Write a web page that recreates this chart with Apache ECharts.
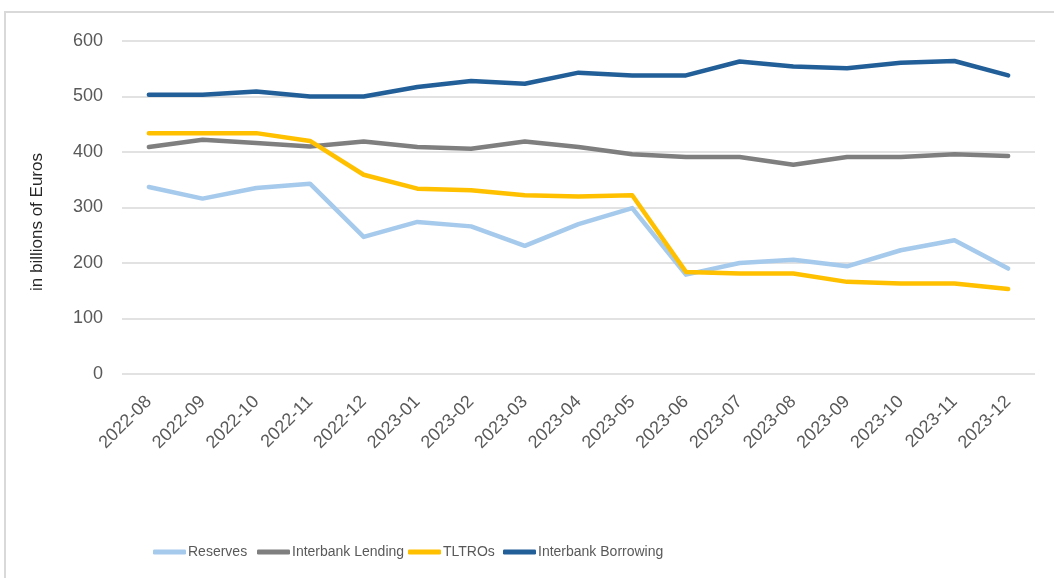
<!DOCTYPE html>
<html>
<head>
<meta charset="utf-8">
<script src="https://cdn.jsdelivr.net/npm/echarts@6/dist/echarts.min.js"></script>
<style>
	html, body { margin: 0; padding: 0; background: #fff; }
	#chart { width: 1054px; height: 578px; }
</style>
</head>
<body>
<div id="chart"></div>
<script>
// months on the x axis
var months = ['2022-08', '2022-09', '2022-10', '2022-11', '2022-12', '2023-01', '2023-02', '2023-03',
	'2023-04', '2023-05', '2023-06', '2023-07', '2023-08', '2023-09', '2023-10', '2023-11', '2023-12'];
// billions of euros
var reserves = [337, 316, 335, 343, 247, 274, 266, 231, 270, 299, 179, 200, 206, 194, 223, 241, 190];
var interbankLending = [409, 422, 416, 410, 419, 409, 406, 419, 409, 396, 391, 391, 377, 391, 391, 396, 393];
var tltros = [434, 434, 434, 420, 359, 334, 331, 322, 320, 322, 184, 181, 181, 166, 163, 163, 153];
var interbankBorrowing = [503, 503, 509, 500, 500, 517, 528, 523, 543, 538, 538, 563, 554, 551, 561, 564, 538];

var seriesNames = ['Reserves', 'Interbank Lending', 'TLTROs', 'Interbank Borrowing'];
var seriesColors = ['#A6CAEC', '#7F7F7F', '#FFC000', '#225F99'];
var seriesData = [reserves, interbankLending, tltros, interbankBorrowing];
// legend entries sit where the excel legend puts them
var legendLeft = [148, 252, 403, 498];

var textGrey = '#595959';

function makeLine(i) {
	return {
		name: seriesNames[i],
		type: 'line',
		data: seriesData[i],
		symbol: 'none',
		color: seriesColors[i],
		lineStyle: { width: 4.5, color: seriesColors[i], cap: 'round', join: 'round' },
		emphasis: { disabled: true }
	};
}

function makeLegend(i) {
	return {
		left: legendLeft[i],
		top: 540,
		icon: 'roundRect',
		itemWidth: 33,
		itemHeight: 5,
		selectedMode: false,
		textStyle: { color: textGrey, fontSize: 14, fontFamily: 'Liberation Sans, sans-serif', padding: [0, 0, 0, -3] },
		data: [seriesNames[i]]
	};
}

var myChart = echarts.init(document.getElementById('chart'));
myChart.setOption({
	animation: false,
	backgroundColor: '#fff',
	grid: { left: 122, top: 41, width: 913, height: 333, containLabel: false },
	legend: [makeLegend(0), makeLegend(1), makeLegend(2), makeLegend(3)],
	graphic: [
		{
			type: 'rect',
			silent: true,
			shape: { x: 5, y: 12, width: 1100, height: 620 },
			style: { fill: 'none', stroke: '#D9D9D9', lineWidth: 2 }
		},
		{
			type: 'text',
			silent: true,
			x: 37,
			y: 222,
			rotation: Math.PI / 2,
			style: {
				text: 'in billions of Euros',
				fill: '#262626',
				fontSize: 17,
				fontFamily: 'Liberation Sans, sans-serif',
				align: 'center',
				verticalAlign: 'middle'
			}
		}
	],
	xAxis: {
		type: 'category',
		data: months,
		boundaryGap: true,
		axisLine: { show: false },
		axisTick: { show: false },
		axisLabel: {
			interval: 0,
			rotate: 45,
			margin: 25,
			color: textGrey,
			fontSize: 18,
			fontFamily: 'Liberation Sans, sans-serif'
		}
	},
	yAxis: {
		type: 'value',
		min: 0,
		max: 600,
		interval: 100,
		axisLine: { show: false },
		axisTick: { show: false },
		axisLabel: { margin: 19, color: textGrey, fontSize: 18, fontFamily: 'Liberation Sans, sans-serif' },
		splitLine: { lineStyle: { color: '#D9D9D9', width: 1.5 } }
	},
	series: [makeLine(0), makeLine(1), makeLine(2), makeLine(3)]
});
</script>
</body>
</html>
